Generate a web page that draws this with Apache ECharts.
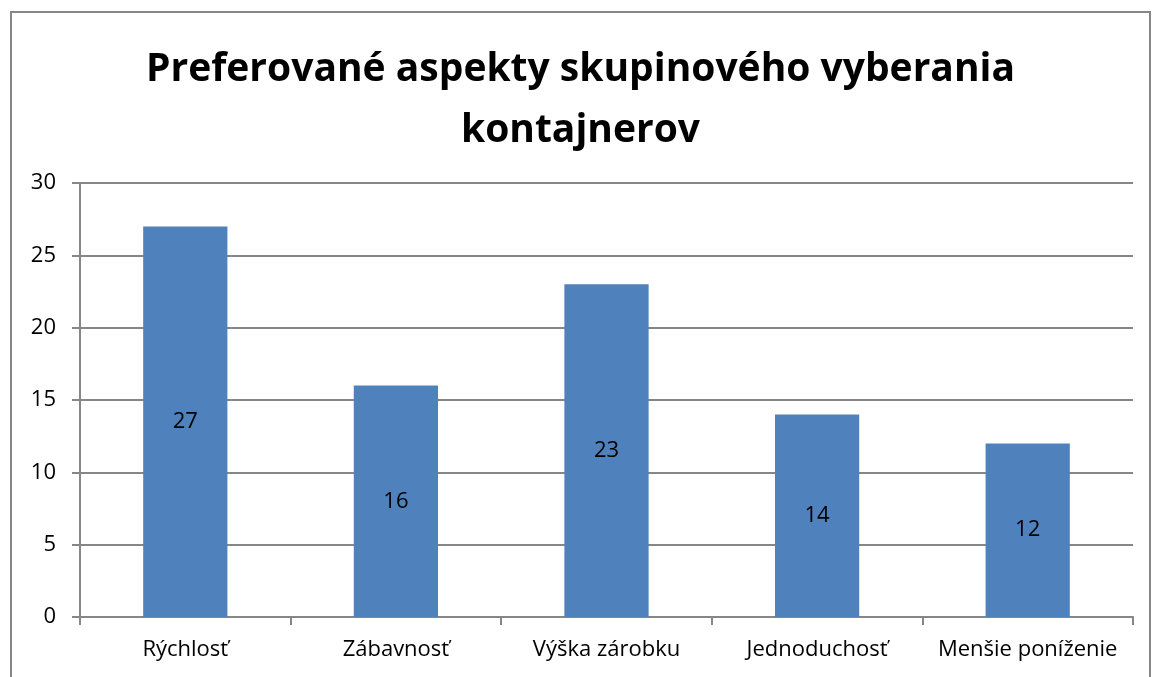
<!DOCTYPE html>
<html>
<head>
<meta charset="utf-8">
<style>
  html, body { margin: 0; padding: 0; background: #fff; }
  #chart { width: 1161px; height: 677px; }
</style>
<script src="https://cdn.jsdelivr.net/npm/echarts@6/dist/echarts.min.js"></script>
</head>
<body>
<div id="chart"></div>
<script>
var categories = ["Rýchlosť", "Zábavnosť", "Výška zárobku", "Jednoduchosť", "Menšie poníženie"];
var values = [27, 16, 23, 14, 12];
var yTicks = [0, 5, 10, 15, 20, 25, 30];

var chart = echarts.init(document.getElementById('chart'));
var option = {
    animation: false,
    textStyle: { fontFamily: "Open Sans" },
    title: {
        text: "Preferované aspekty skupinového vyberania\nkontajnerov",
        left: "center",
        top: 34,
        textStyle: {
            fontFamily: "Open Sans",
            fontSize: 39,
            fontWeight: "bold",
            color: "#000",
            lineHeight: 61
        }
    },
    graphic: [
        {
            type: "rect",
            shape: { x: 11, y: 12, width: 1139, height: 720 },
            style: { fill: null, stroke: "#868686", lineWidth: 2 },
            silent: true
        }
    ],
    grid: { left: 80, right: 28, top: 183, bottom: 60 },
    xAxis: {
        type: "category",
        data: categories,
        axisLine: { lineStyle: { color: "#868686", width: 2 } },
        axisTick: { show: true, interval: 0, alignWithLabel: false, length: 8, lineStyle: { color: "#868686", width: 2 } },
        axisLabel: { color: "#000", fontSize: 22, margin: 22, interval: 0 },
        splitLine: { show: false }
    },
    yAxis: {
        type: "value",
        min: 0,
        max: yTicks[yTicks.length - 1],
        interval: yTicks[1] - yTicks[0],
        axisLine: { show: true, lineStyle: { color: "#868686", width: 2 } },
        axisTick: { show: true, length: 8, inside: false, lineStyle: { color: "#868686", width: 2 } },
        axisLabel: { color: "#000", fontSize: 22, margin: 24 },
        splitLine: { show: true, lineStyle: { color: "#868686", width: 2 } }
    },
    series: [
        {
            type: "bar",
            data: values,
            barWidth: "40%",
            itemStyle: { color: "#4f81bd" },
            label: {
                show: true,
                position: "inside",
                color: "#000",
                fontSize: 22
            }
        }
    ]
};
chart.setOption(option);
</script>
</body>
</html>
